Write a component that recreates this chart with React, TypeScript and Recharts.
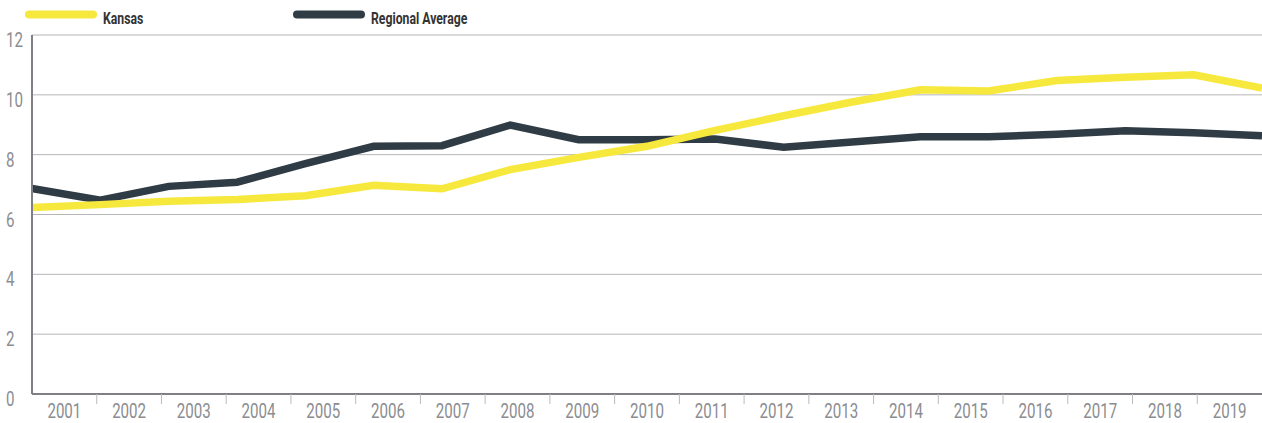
import React from "react";
import { LineChart, Line, XAxis, YAxis, CartesianGrid } from "recharts";

const years = [
  "2001", "2002", "2003", "2004", "2005", "2006", "2007", "2008", "2009", "2010",
  "2011", "2012", "2013", "2014", "2015", "2016", "2017", "2018", "2019",
];
const kansas = [
  6.23, 6.33, 6.44, 6.5, 6.63, 6.98, 6.86, 7.5, 7.91, 8.28,
  8.81, 9.3, 9.76, 10.17, 10.13, 10.48, 10.59, 10.67, 10.23,
];
const regional = [
  6.87, 6.48, 6.94, 7.08, 7.7, 8.28, 8.3, 8.99, 8.5, 8.5,
  8.52, 8.25, 8.42, 8.6, 8.6, 8.68, 8.8, 8.73, 8.63,
];
const yTicks = [0, 2, 4, 6, 8, 10, 12];

const data = years.map((year, i) => ({
  idx: i,
  year,
  kansas: kansas[i],
  regional: regional[i],
}));

const W = 1262;
const H = 423;
const LEFT = 32;
const FONT = "Roboto, 'DejaVu Sans Condensed', sans-serif";
const NARROW = 0.72;
const YELLOW = "#f7e83d";
const DARK = "#2f3c45";
const AXIS = "#7e8085";
const LABEL = "#8b8d91";

const bandWidth = (W - LEFT) / years.length;

function YearTick(props: any) {
  const { x, y, payload, index } = props;
  return (
    <g>
      {index > 0 && (
        <line
          x1={x - bandWidth / 2}
          x2={x - bandWidth / 2}
          y1={y}
          y2={y + 10}
          stroke="#b9babd"
          strokeWidth={1}
        />
      )}
      <text
        transform={`translate(${x},${y + 24}) scale(${NARROW},1)`}
        textAnchor="middle"
        fill={LABEL}
        fontSize={21}
        fontFamily={FONT}
      >
        {payload.value}
      </text>
    </g>
  );
}

function ValueTick(props: any) {
  const { y, payload } = props;
  return (
    <text
      transform={`translate(6,${y + 12}) scale(${NARROW},1)`}
      textAnchor="start"
      fill={LABEL}
      fontSize={21}
      fontFamily={FONT}
    >
      {payload.value}
    </text>
  );
}

function LegendItem({ color, label, left }: { color: string; label: string; left: number }) {
  return (
    <g>
      <line
        x1={left + 4}
        x2={left + 68}
        y1={14.5}
        y2={14.5}
        stroke={color}
        strokeWidth={8}
        strokeLinecap="round"
      />
      <text
        transform={`translate(${left + 78},24) scale(0.72,1)`}
        fill="#333"
        fontSize={17}
        fontWeight={700}
        fontFamily={FONT}
      >
        {label}
      </text>
    </g>
  );
}

export default function App() {
  return (
    <div style={{ position: "absolute", left: 0, top: 0, width: W, height: H, background: "#fff" }}>
      <svg width={W} height={32} style={{ position: "absolute", left: 0, top: 0 }}>
        <LegendItem color={YELLOW} label="Kansas" left={25} />
        <LegendItem color={DARK} label="Regional Average" left={293} />
      </svg>
      <LineChart
        width={W}
        height={H}
        data={data}
        margin={{ top: 35, right: 0, bottom: 0, left: 0 }}
      >
        <CartesianGrid horizontal vertical={false} stroke="#b5b6b8" strokeWidth={1} />
        <XAxis
          xAxisId="pts"
          dataKey="idx"
          type="number"
          domain={[0, years.length - 1]}
          hide
        />
        <XAxis
          xAxisId="lbl"
          dataKey="year"
          type="category"
          scale="band"
          height={29}
          tickSize={0}
          tickMargin={0}
          tickLine={false}
          axisLine={{ stroke: AXIS, strokeWidth: 2 }}
          tick={<YearTick />}
          interval={0}
        />
        <YAxis
          width={LEFT}
          domain={[0, 12]}
          ticks={yTicks}
          tickLine={false}
          axisLine={{ stroke: AXIS, strokeWidth: 2 }}
          tick={<ValueTick />}
          interval={0}
        />
        <Line
          xAxisId="pts"
          dataKey="regional"
          stroke={DARK}
          strokeWidth={7.5}
          dot={false}
          activeDot={false}
          isAnimationActive={false}
        />
        <Line
          xAxisId="pts"
          dataKey="kansas"
          stroke={YELLOW}
          strokeWidth={7.5}
          dot={false}
          activeDot={false}
          isAnimationActive={false}
        />
      </LineChart>
    </div>
  );
}
